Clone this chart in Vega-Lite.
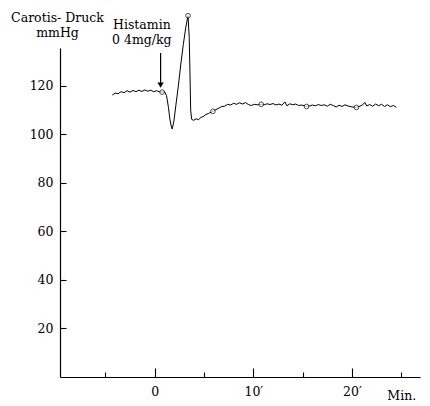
{
  "$schema": "https://vega.github.io/schema/vega-lite/v6.json",
  "width": 360,
  "height": 329,
  "autosize": "none",
  "padding": {"left": 60, "top": 48, "right": 10, "bottom": 29},
  "background": "white",
  "config": {
    "view": {"stroke": null},
    "font": "DejaVu Serif",
    "axis": {
      "labelFont": "DejaVu Serif",
      "labelFontSize": 12.5,
      "labelColor": "black",
      "titleFont": "DejaVu Serif",
      "titleFontSize": 12.5,
      "titleFontWeight": "normal",
      "titleColor": "black",
      "domainColor": "black",
      "domainWidth": 1.2,
      "tickColor": "black",
      "tickWidth": 1.1,
      "grid": false
    }
  },
  "datasets": {
    "trace": [
      {"t": -4.3, "p": 116.2}, {"t": -4.0, "p": 117.0}, {"t": -3.7, "p": 116.8}, {"t": -3.4, "p": 117.6},
      {"t": -3.1, "p": 117.2}, {"t": -2.8, "p": 118.0}, {"t": -2.5, "p": 117.4}, {"t": -2.2, "p": 118.1},
      {"t": -1.9, "p": 117.6}, {"t": -1.6, "p": 118.2}, {"t": -1.3, "p": 117.7}, {"t": -1.0, "p": 118.3},
      {"t": -0.7, "p": 117.8}, {"t": -0.4, "p": 118.2}, {"t": -0.1, "p": 117.6}, {"t": 0.2, "p": 118.0},
      {"t": 0.5, "p": 117.5}, {"t": 0.75, "p": 117.4}, {"t": 1.0, "p": 117.6}, {"t": 1.2, "p": 116.0},
      {"t": 1.4, "p": 111.0}, {"t": 1.55, "p": 106.0}, {"t": 1.7, "p": 103.0}, {"t": 1.78, "p": 102.2},
      {"t": 1.95, "p": 105.5}, {"t": 2.15, "p": 112.0}, {"t": 2.4, "p": 120.0}, {"t": 2.65, "p": 129.0},
      {"t": 2.9, "p": 137.0}, {"t": 3.15, "p": 144.0}, {"t": 3.38, "p": 148.9}, {"t": 3.5, "p": 140.0},
      {"t": 3.58, "p": 125.0}, {"t": 3.65, "p": 110.0}, {"t": 3.75, "p": 106.2}, {"t": 3.95, "p": 105.8},
      {"t": 4.2, "p": 106.4}, {"t": 4.45, "p": 106.1}, {"t": 4.7, "p": 107.0}, {"t": 4.95, "p": 107.4},
      {"t": 5.2, "p": 108.2}, {"t": 5.45, "p": 108.6}, {"t": 5.9, "p": 109.5}, {"t": 6.2, "p": 110.2},
      {"t": 6.5, "p": 110.8}, {"t": 6.8, "p": 111.5}, {"t": 7.1, "p": 111.6}, {"t": 7.4, "p": 112.4},
      {"t": 7.7, "p": 112.1}, {"t": 8.0, "p": 112.8}, {"t": 8.3, "p": 112.4}, {"t": 8.6, "p": 113.0},
      {"t": 8.9, "p": 112.5}, {"t": 9.2, "p": 113.1}, {"t": 9.5, "p": 112.3}, {"t": 9.8, "p": 111.9},
      {"t": 10.1, "p": 112.4}, {"t": 10.4, "p": 112.2}, {"t": 10.8, "p": 112.4}, {"t": 11.1, "p": 112.2},
      {"t": 11.4, "p": 112.6}, {"t": 11.7, "p": 112.3}, {"t": 12.0, "p": 112.7}, {"t": 12.3, "p": 112.1},
      {"t": 12.6, "p": 112.5}, {"t": 12.9, "p": 112.0}, {"t": 13.2, "p": 113.4}, {"t": 13.4, "p": 111.8},
      {"t": 13.7, "p": 112.6}, {"t": 14.0, "p": 112.2}, {"t": 14.3, "p": 112.5}, {"t": 14.6, "p": 111.9},
      {"t": 14.9, "p": 112.1}, {"t": 15.4, "p": 111.5}, {"t": 15.7, "p": 111.7}, {"t": 16.0, "p": 112.1},
      {"t": 16.3, "p": 111.8}, {"t": 16.6, "p": 112.3}, {"t": 16.9, "p": 111.9}, {"t": 17.2, "p": 112.2},
      {"t": 17.5, "p": 111.6}, {"t": 17.8, "p": 112.4}, {"t": 18.1, "p": 111.9}, {"t": 18.4, "p": 111.3},
      {"t": 18.7, "p": 112.0}, {"t": 19.0, "p": 111.5}, {"t": 19.3, "p": 112.2}, {"t": 19.6, "p": 111.7},
      {"t": 20.0, "p": 111.3}, {"t": 20.45, "p": 111.1}, {"t": 20.8, "p": 111.6}, {"t": 21.1, "p": 112.2},
      {"t": 21.3, "p": 113.2}, {"t": 21.5, "p": 111.7}, {"t": 21.8, "p": 112.3}, {"t": 22.1, "p": 111.6},
      {"t": 22.4, "p": 112.5}, {"t": 22.7, "p": 111.8}, {"t": 23.0, "p": 112.4}, {"t": 23.3, "p": 111.5},
      {"t": 23.6, "p": 112.2}, {"t": 23.9, "p": 111.4}, {"t": 24.2, "p": 111.9}, {"t": 24.5, "p": 111.2}
    ],
    "markers": [
      {"t": 0.75, "p": 117.4}, {"t": 3.38, "p": 148.9}, {"t": 5.9, "p": 109.5},
      {"t": 10.8, "p": 112.4}, {"t": 15.4, "p": 111.5}, {"t": 20.45, "p": 111.1}
    ],
    "injection": [
      {"t": 0.6, "top": 133.5, "tip": 120.3, "label": ["Histamin", "0 4mg/kg"], "labelT": -1.3, "labelP": 147.5}
    ]
  },
  "layer": [
    {
      "data": {"name": "trace"},
      "mark": {"type": "line", "color": "black", "strokeWidth": 1, "clip": false},
      "encoding": {
        "x": {
          "field": "t", "type": "quantitative",
          "scale": {"domain": [-9.6, 26.9], "nice": false, "zero": false},
          "axis": {
            "title": null,
            "values": [-5, 0, 5, 10, 15, 20, 25],
            "tickSize": {"condition": {"test": "datum.value % 10 === 0", "value": -9}, "value": -5},
            "labelPadding": 17,
            "labelExpr": "datum.value === 0 ? '0' : datum.value === 10 ? '10′' : datum.value === 20 ? '20′' : datum.value === 25 ? 'Min.' : ''"
          }
        },
        "y": {
          "field": "p", "type": "quantitative",
          "scale": {"domain": [0, 135.6], "nice": false},
          "axis": {
            "title": ["Carotis- Druck", "mmHg"],
            "titleAngle": 0,
            "titleAlign": "center",
            "titleBaseline": "top",
            "titleX": -3,
            "titleY": -37,
            "titleLineHeight": 15,
            "values": [20, 40, 60, 80, 100, 120],
            "tickSize": -6,
            "labelPadding": 13
          }
        }
      }
    },
    {
      "data": {"name": "markers"},
      "mark": {"type": "point", "shape": "circle", "size": 22, "filled": true, "fill": "white", "stroke": "black", "strokeWidth": 1, "clip": false},
      "encoding": {
        "x": {"field": "t", "type": "quantitative"},
        "y": {"field": "p", "type": "quantitative"}
      }
    },
    {
      "data": {"name": "injection"},
      "mark": {"type": "rule", "color": "black", "strokeWidth": 1.2},
      "encoding": {
        "x": {"field": "t", "type": "quantitative"},
        "y": {"field": "top", "type": "quantitative"},
        "y2": {"field": "tip"}
      }
    },
    {
      "data": {"name": "injection"},
      "mark": {"type": "point", "shape": "triangle-down", "size": 40, "filled": true, "color": "black", "opacity": 1},
      "encoding": {
        "x": {"field": "t", "type": "quantitative"},
        "y": {"field": "tip", "type": "quantitative"}
      }
    },
    {
      "data": {"name": "injection"},
      "mark": {"type": "text", "font": "DejaVu Serif", "fontSize": 12.5, "align": "center", "baseline": "top", "lineHeight": 15, "color": "black", "clip": false},
      "encoding": {
        "x": {"field": "labelT", "type": "quantitative"},
        "y": {"field": "labelP", "type": "quantitative"},
        "text": {"field": "label"}
      }
    }
  ]
}
